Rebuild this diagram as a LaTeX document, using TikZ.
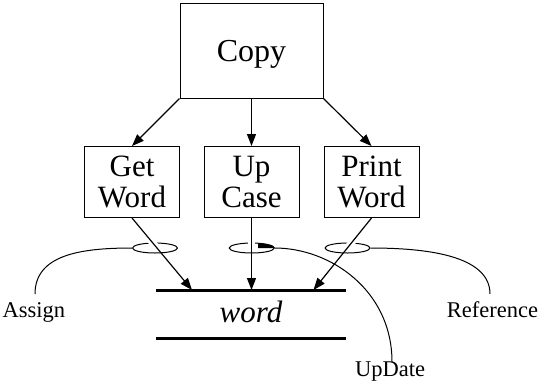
\documentclass[tikz,border=0pt]{standalone}
\usepackage{fontspec}
\setmainfont{Liberation Serif}
\usetikzlibrary{arrows.meta,shapes.geometric}
\begin{document}
\begin{tikzpicture}[x=1bp,y=-1bp,
  box/.style={draw, line width=1bp, inner sep=0pt, minimum width=95bp, minimum height=71bp, align=center, font=\fontsize{31bp}{31bp}\selectfont},
  arr/.style={line width=1.2bp, -{Triangle[length=12bp,width=9bp]}},
  ring/.style={draw, ellipse, line width=1bp, minimum width=45bp, minimum height=10bp, inner sep=0pt},
  gapline/.style={draw=white, line width=7bp},
  lab/.style={font=\fontsize{22.5bp}{24bp}\selectfont, anchor=base, inner sep=0pt},
  link/.style={line width=1bp},
  store/.style={line width=2.5bp}]
\useasboundingbox (0,0) rectangle (544,385);
% boxes
\node[box, minimum width=143bp, minimum height=95bp, text depth=0pt, font=\fontsize{32bp}{32bp}\selectfont] (copy) at (251.5,50.5) {Copy};
\node[box] (gw) at (132,182) {Get\\Word};
\node[box] (uc) at (251.5,182) {Up\\Case};
\node[box] (pw) at (371.5,182) {Print\\Word};
% store
\coordinate (wl1) at (156,290.7);
\coordinate (wr1) at (346,290.7);
\coordinate (wl2) at (156,338.3);
\coordinate (wr2) at (346,338.3);
\coordinate (t1) at (192,290);
\coordinate (t2) at (251.5,290);
\coordinate (t3) at (313.5,290);
\node[font=\itshape\fontsize{31bp}{31bp}\selectfont, anchor=base, inner sep=0pt] (wordtext) at (251,322) {word};
% rings
\node[ring] (ea) at (155,248) {};
\node[ring] (eb) at (251.7,248) {};
\node[ring] (ec) at (347.5,248) {};
% gaps in the upper halves of the rings
\begin{scope}
\clip (0,238) rectangle (544,248);
\draw[gapline] (gw.south) -- (t1);
\draw[gapline] (uc.south) -- (t2);
\draw[gapline] (pw.south) -- (t3);
\end{scope}
% arrows
\draw[arr] (copy.south west) -- (gw.north);
\draw[arr] (copy.south) -- (uc.north);
\draw[arr] (copy.south east) -- (pw.north);
\draw[arr] (gw.south) -- (t1);
\draw[arr] (uc.south) -- (t2);
\draw[arr] (pw.south) -- (t3);
\draw[store] (wl1) -- (wr1);
\draw[store] (wl2) -- (wr2);
% wedge on middle ring
\fill (eb.center) ++(6.5,0) -- ++(0,-4.8) arc[start angle=-75, end angle=0, x radius=22.5, y radius=5] -- cycle;
% labels
\coordinate (aend) at (35,294);
\coordinate (rend) at (490,294);
\coordinate (uend) at (392,362);
\node[lab] (assign) at (34,317.7) {Assign};
\node[lab] (reference) at (492.5,317.7) {Reference};
\node[lab] (update) at (390,376) {UpDate};
\draw[link] (ea.west) .. controls (80,248) and (35,255) .. (aend);
\draw[link] (ec.east) .. controls (425,248) and (490,255) .. (rend);
\draw[link] (eb.east) .. controls (330,248) and (392,290) .. (uend);
\end{tikzpicture}
\end{document}
